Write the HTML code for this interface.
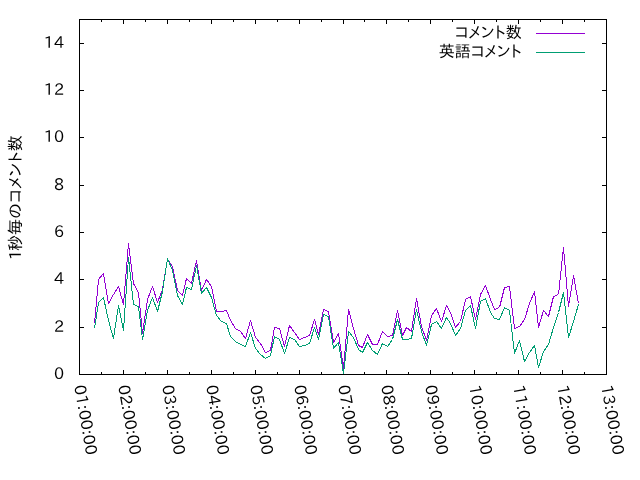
<!DOCTYPE html>
<html lang="ja"><head><meta charset="utf-8"><title>コメント数</title>
<style>
html,body{margin:0;padding:0;background:#fff;}
body{width:640px;height:480px;overflow:hidden;}
svg{display:block;}
text{font-family:"IPAPGothic", "Liberation Sans", "IPAGothic", sans-serif;font-size:16px;fill:#000;}
</style></head><body>
<svg width="640" height="480" viewBox="0 0 640 480">
<rect x="0" y="0" width="640" height="480" fill="#ffffff"/>
<g shape-rendering="crispEdges" fill="none" stroke="#000" stroke-width="1">
<rect x="79.5" y="19.5" width="527" height="355"/>
<path d="M80 374.5H84M606 374.5H602"/>
<path d="M80 327.5H84M606 327.5H602"/>
<path d="M80 279.5H84M606 279.5H602"/>
<path d="M80 232.5H84M606 232.5H602"/>
<path d="M80 185.5H84M606 185.5H602"/>
<path d="M80 137.5H84M606 137.5H602"/>
<path d="M80 90.5H84M606 90.5H602"/>
<path d="M80 43.5H84M606 43.5H602"/>
<path d="M79.5 374V370M79.5 20V24"/>
<path d="M101.5 374V372M101.5 20V22"/>
<path d="M123.5 374V370M123.5 20V24"/>
<path d="M145.5 374V372M145.5 20V22"/>
<path d="M167.5 374V370M167.5 20V24"/>
<path d="M189.5 374V372M189.5 20V22"/>
<path d="M211.5 374V370M211.5 20V24"/>
<path d="M233.5 374V372M233.5 20V22"/>
<path d="M255.5 374V370M255.5 20V24"/>
<path d="M277.5 374V372M277.5 20V22"/>
<path d="M299.5 374V370M299.5 20V24"/>
<path d="M321.5 374V372M321.5 20V22"/>
<path d="M343.5 374V370M343.5 20V24"/>
<path d="M364.5 374V372M364.5 20V22"/>
<path d="M386.5 374V370M386.5 20V24"/>
<path d="M408.5 374V372M408.5 20V22"/>
<path d="M430.5 374V370M430.5 20V24"/>
<path d="M452.5 374V372M452.5 20V22"/>
<path d="M474.5 374V370M474.5 20V24"/>
<path d="M496.5 374V372M496.5 20V22"/>
<path d="M518.5 374V370M518.5 20V24"/>
<path d="M540.5 374V372M540.5 20V22"/>
<path d="M562.5 374V370M562.5 20V24"/>
<path d="M584.5 374V372M584.5 20V22"/>
<path d="M606.5 374V370M606.5 20V24"/>
</g>
<g shape-rendering="crispEdges" fill="none" stroke-width="1" stroke-linejoin="bevel">
<polyline stroke="#9400d3" points="94.5,323.5 98.5,279.5 103.5,273.5 108.5,303.5 113.5,294.5 118.5,286.5 123.5,304.5 128.5,243.5 133.5,283.5 138.5,292.5 142.5,333.5 147.5,299.5 152.5,286.5 157.5,302.5 162.5,289.5 167.5,259.5 172.5,266.5 177.5,290.5 182.5,295.5 186.5,278.5 191.5,283.5 196.5,260.5 201.5,290.5 206.5,279.5 211.5,286.5 216.5,311.5 221.5,311.5 226.5,310.5 230.5,320.5 235.5,328.5 240.5,331.5 245.5,338.5 250.5,320.5 255.5,337.5 260.5,343.5 265.5,352.5 270.5,350.5 274.5,327.5 279.5,328.5 284.5,346.5 289.5,325.5 294.5,332.5 299.5,339.5 304.5,337.5 309.5,335.5 314.5,319.5 318.5,334.5 323.5,309.5 328.5,311.5 333.5,342.5 338.5,333.5 343.5,368.5 348.5,309.5 353.5,328.5 358.5,345.5 362.5,347.5 367.5,334.5 372.5,344.5 377.5,344.5 382.5,331.5 387.5,336.5 392.5,335.5 397.5,310.5 402.5,335.5 406.5,327.5 411.5,331.5 416.5,298.5 421.5,326.5 426.5,340.5 431.5,315.5 436.5,308.5 441.5,321.5 446.5,305.5 450.5,312.5 455.5,327.5 460.5,321.5 465.5,299.5 470.5,296.5 475.5,319.5 480.5,294.5 485.5,285.5 490.5,299.5 494.5,309.5 499.5,307.5 504.5,287.5 509.5,286.5 514.5,328.5 519.5,326.5 524.5,319.5 529.5,303.5 534.5,291.5 538.5,327.5 543.5,310.5 548.5,316.5 553.5,296.5 558.5,294.5 563.5,247.5 568.5,306.5 573.5,275.5 578.5,303.5"/>
<polyline stroke="#009e73" points="94.5,328.5 98.5,302.5 103.5,297.5 108.5,320.5 113.5,338.5 118.5,305.5 123.5,330.5 128.5,257.5 133.5,304.5 138.5,306.5 142.5,339.5 147.5,310.5 152.5,297.5 157.5,311.5 162.5,291.5 167.5,258.5 172.5,270.5 177.5,295.5 182.5,304.5 186.5,287.5 191.5,289.5 196.5,265.5 201.5,293.5 206.5,287.5 211.5,297.5 216.5,315.5 221.5,321.5 226.5,323.5 230.5,336.5 235.5,341.5 240.5,344.5 245.5,346.5 250.5,332.5 255.5,348.5 260.5,354.5 265.5,358.5 270.5,355.5 274.5,336.5 279.5,339.5 284.5,353.5 289.5,337.5 294.5,339.5 299.5,346.5 304.5,345.5 309.5,343.5 314.5,327.5 318.5,339.5 323.5,314.5 328.5,316.5 333.5,348.5 338.5,342.5 343.5,373.5 348.5,331.5 353.5,337.5 358.5,349.5 362.5,352.5 367.5,342.5 372.5,350.5 377.5,354.5 382.5,343.5 387.5,346.5 392.5,339.5 397.5,319.5 402.5,339.5 406.5,339.5 411.5,338.5 416.5,309.5 421.5,331.5 426.5,345.5 431.5,324.5 436.5,321.5 441.5,328.5 446.5,317.5 450.5,323.5 455.5,335.5 460.5,328.5 465.5,310.5 470.5,305.5 475.5,328.5 480.5,301.5 485.5,298.5 490.5,312.5 494.5,318.5 499.5,319.5 504.5,307.5 509.5,310.5 514.5,353.5 519.5,340.5 524.5,361.5 529.5,352.5 534.5,345.5 538.5,367.5 543.5,351.5 548.5,344.5 553.5,327.5 558.5,312.5 563.5,292.5 568.5,337.5 573.5,321.5 578.5,304.5"/>
<path stroke="#9400d3" d="M536 33.5H585"/>
<path stroke="#009e73" d="M536 52.5H585"/>
</g>
<text y="379.1" x="53.92">0</text>
<text y="332.1" x="53.92">2</text>
<text y="284.1" x="53.92">4</text>
<text y="237.1" x="53.92">6</text>
<text y="190.1" x="53.92">8</text>
<text y="142.1" x="43.84 53.92">10</text>
<text y="95.1" x="43.84 53.92">12</text>
<text y="48.1" x="43.84 53.92">14</text>
<text transform="translate(74.0 386) rotate(80)" y="0" x="0.00 10.08 20.16 25.27 35.34 45.42 50.55 60.63">01:00:00</text>
<text transform="translate(118.0 386) rotate(80)" y="0" x="0.00 10.08 20.16 25.27 35.34 45.42 50.55 60.63">02:00:00</text>
<text transform="translate(162.0 386) rotate(80)" y="0" x="0.00 10.08 20.16 25.27 35.34 45.42 50.55 60.63">03:00:00</text>
<text transform="translate(206.0 386) rotate(80)" y="0" x="0.00 10.08 20.16 25.27 35.34 45.42 50.55 60.63">04:00:00</text>
<text transform="translate(250.0 386) rotate(80)" y="0" x="0.00 10.08 20.16 25.27 35.34 45.42 50.55 60.63">05:00:00</text>
<text transform="translate(294.0 386) rotate(80)" y="0" x="0.00 10.08 20.16 25.27 35.34 45.42 50.55 60.63">06:00:00</text>
<text transform="translate(338.0 386) rotate(80)" y="0" x="0.00 10.08 20.16 25.27 35.34 45.42 50.55 60.63">07:00:00</text>
<text transform="translate(381.0 386) rotate(80)" y="0" x="0.00 10.08 20.16 25.27 35.34 45.42 50.55 60.63">08:00:00</text>
<text transform="translate(425.0 386) rotate(80)" y="0" x="0.00 10.08 20.16 25.27 35.34 45.42 50.55 60.63">09:00:00</text>
<text transform="translate(469.0 386) rotate(80)" y="0" x="0.00 10.08 20.16 25.27 35.34 45.42 50.55 60.63">10:00:00</text>
<text transform="translate(513.0 386) rotate(80)" y="0" x="0.00 10.08 20.16 25.27 35.34 45.42 50.55 60.63">11:00:00</text>
<text transform="translate(557.0 386) rotate(80)" y="0" x="0.00 10.08 20.16 25.27 35.34 45.42 50.55 60.63">12:00:00</text>
<text transform="translate(601.0 386) rotate(80)" y="0" x="0.00 10.08 20.16 25.27 35.34 45.42 50.55 60.63">13:00:00</text>
<text class="jp" transform="translate(21.3 197.5) rotate(-90)" x="-62.39 -53.61 -37.41 -21.21 -5.48 8.33 20.86 34.83 46.39">1秒毎のコメント数</text>
<text class="jp" y="38" x="454.75 468.35 480.67 494.42 505.78">コメント数</text>
<text class="jp" y="57" x="438.75 454.75 470.75 484.35 496.67 510.42">英語コメント</text>
</svg></body></html>
